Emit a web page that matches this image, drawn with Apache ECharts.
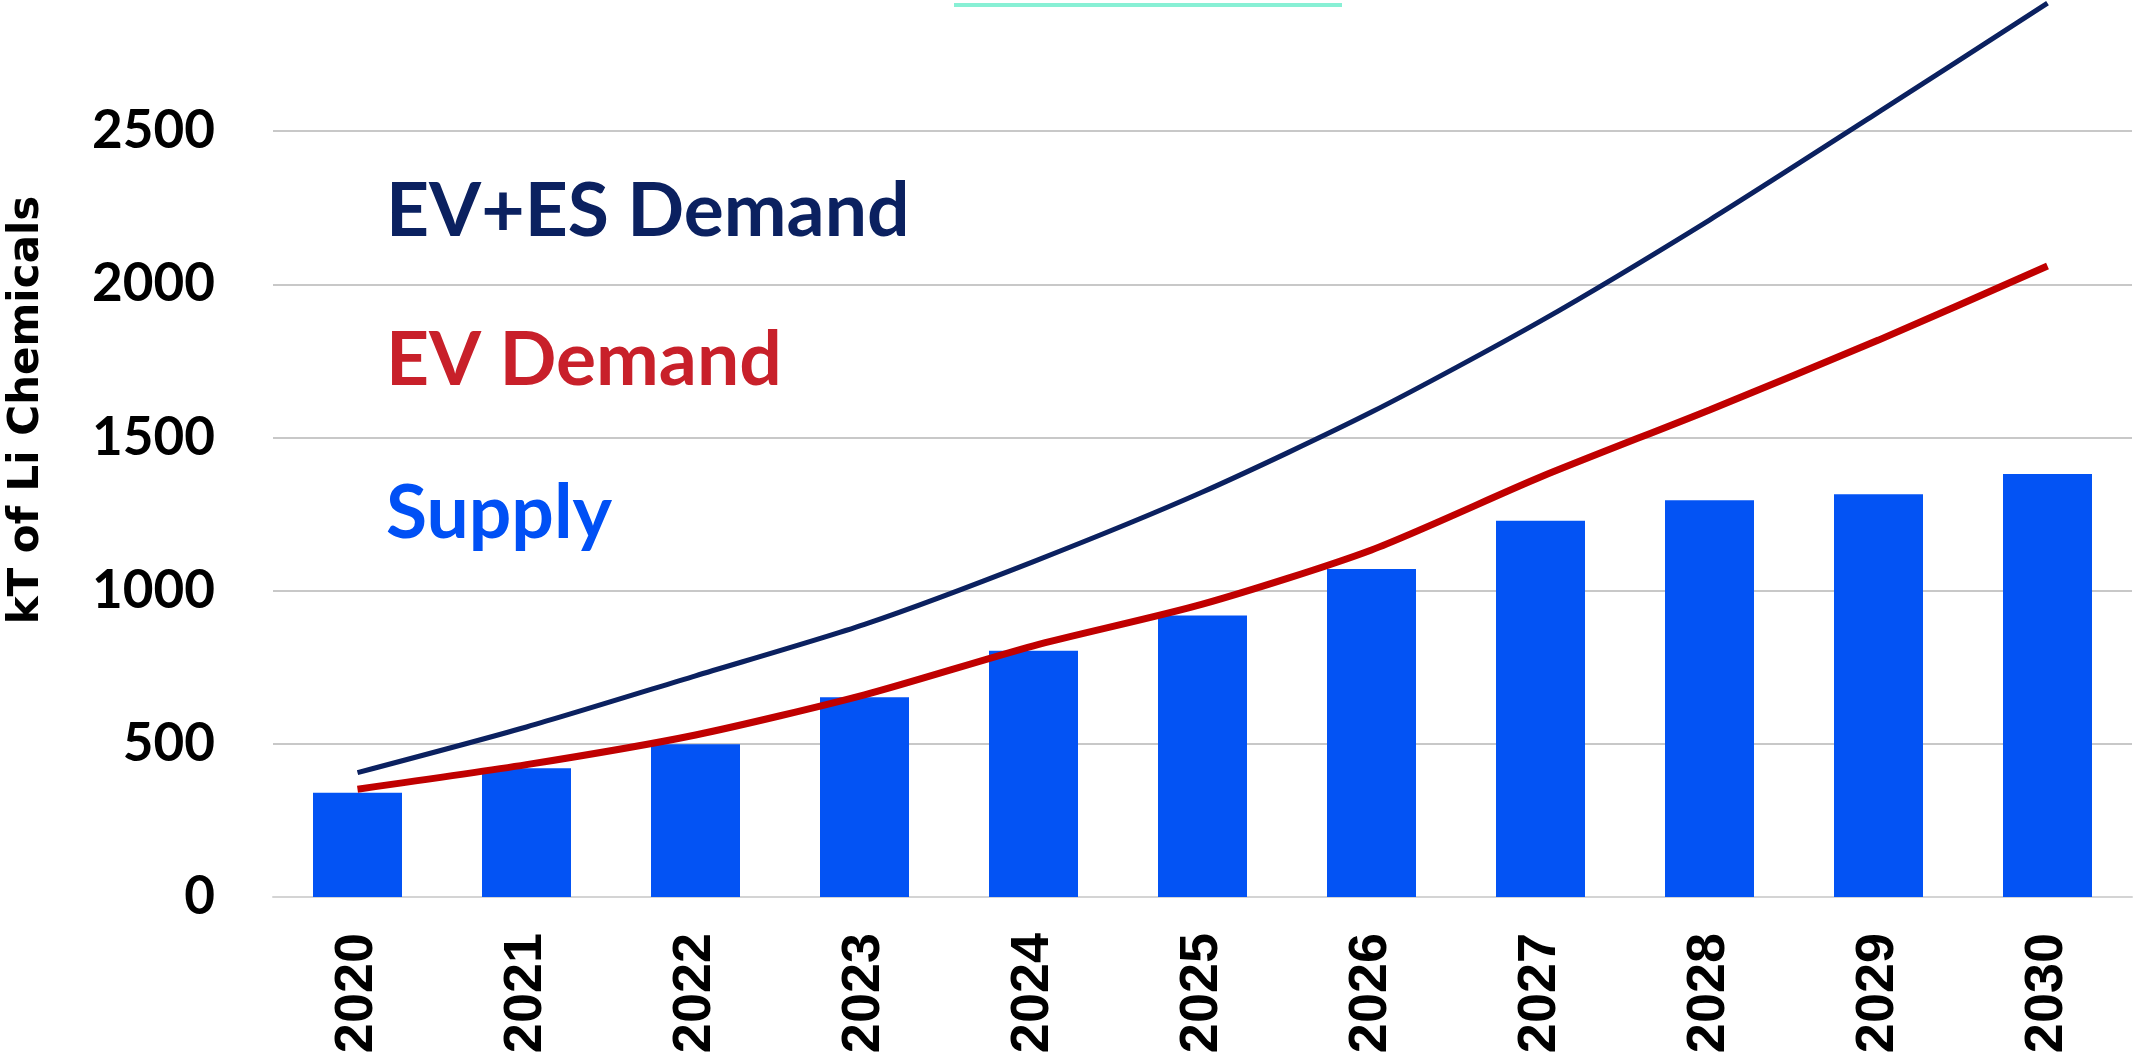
<!DOCTYPE html>
<html>
<head>
<meta charset="utf-8">
<script src="https://cdn.jsdelivr.net/npm/echarts@6/dist/echarts.min.js"></script>
<style>
  html, body { margin: 0; padding: 0; background: #fff; }
  #chart { width: 2144px; height: 1060px; }
</style>
</head>
<body>
<div id="chart"></div>
<script>
// data (kT)
var years = ['2020', '2021', '2022', '2023', '2024', '2025', '2026', '2027', '2028', '2029', '2030'];
var supply = [340, 420, 499, 652, 804, 919, 1071, 1228, 1295, 1315, 1381];
var evDemand = [352, 432, 529, 660, 820, 956, 1133, 1371, 1590, 1818, 2060];
var evEsDemand = [406, 555, 722, 890, 1095, 1322, 1583, 1880, 2210, 2562, 2918];
var yTicks = [0, 500, 1000, 1500, 2000, 2500, 3000];

window.onload = function () {
    var myChart = echarts.init(document.getElementById('chart'));

    var option = {
        animation: false,
        backgroundColor: '#fff',
        grid: {
            left: 273, right: 12, top: -22, bottom: 163,
            containLabel: false,
            outerBoundsMode: 'none'
        },
        xAxis: {
            type: 'category',
            data: years,
            axisTick: { show: false },
            axisLine: { lineStyle: { color: '#d4d4d4', width: 2 } },
            axisLabel: {
                rotate: 90,
                margin: 36,
                color: '#000',
                fontFamily: 'Liberation Sans',
                fontWeight: 'bold',
                fontSize: 54
            }
        },
        yAxis: {
            type: 'value',
            min: yTicks[0],
            max: yTicks[yTicks.length - 1],
            interval: 500,
            axisLine: { show: false },
            axisTick: { show: false },
            splitLine: { lineStyle: { color: '#c8c8c8', width: 2 } },
            axisLabel: {
                margin: 58,
                color: '#000',
                fontFamily: 'Lato',
                fontWeight: 'bold',
                fontSize: 53,
                formatter: function (v) { return String(v); }
            }
        },
        series: [
            {
                name: 'Supply',
                type: 'bar',
                data: supply,
                barWidth: 89,
                itemStyle: { color: '#0353F4' },
                z: 2
            },
            {
                name: 'EV+ES Demand',
                type: 'line',
                data: evEsDemand,
                smooth: 0.25,
                symbol: 'none',
                lineStyle: { color: '#0B2160', width: 5 },
                z: 3
            },
            {
                name: 'EV Demand',
                type: 'line',
                data: evDemand,
                smooth: 0.25,
                symbol: 'none',
                lineStyle: { color: '#C00000', width: 7 },
                z: 4
            }
        ],
        graphic: [
            // 顶部的青色细线
            {
                type: 'line',
                shape: { x1: 954, y1: 5, x2: 1342, y2: 5 },
                style: { stroke: '#88F0D5', lineWidth: 4 }
            },
            {
                type: 'text',
                x: 27, y: 410,
                rotation: Math.PI / 2,
                style: {
                    text: 'kT of Li Chemicals',
                    fill: '#000',
                    font: 'bold 42px "DejaVu Sans"',
                    align: 'center',
                    verticalAlign: 'middle'
                }
            },
            {
                type: 'text',
                x: 386, y: 212,
                style: {
                    text: 'EV+ES Demand',
                    fill: '#0B2160',
                    font: 'bold 75px Lato',
                    align: 'left',
                    verticalAlign: 'middle'
                }
            },
            {
                type: 'text',
                x: 386, y: 361,
                style: {
                    text: 'EV Demand',
                    fill: '#C8202A',
                    font: 'bold 75px Lato',
                    align: 'left',
                    verticalAlign: 'middle'
                }
            },
            {
                type: 'text',
                x: 386, y: 514,
                style: {
                    text: 'Supply',
                    fill: '#0050F5',
                    font: 'bold 75px Lato',
                    align: 'left',
                    verticalAlign: 'middle'
                }
            }
        ]
    };

    myChart.setOption(option);
};
</script>
</body>
</html>
